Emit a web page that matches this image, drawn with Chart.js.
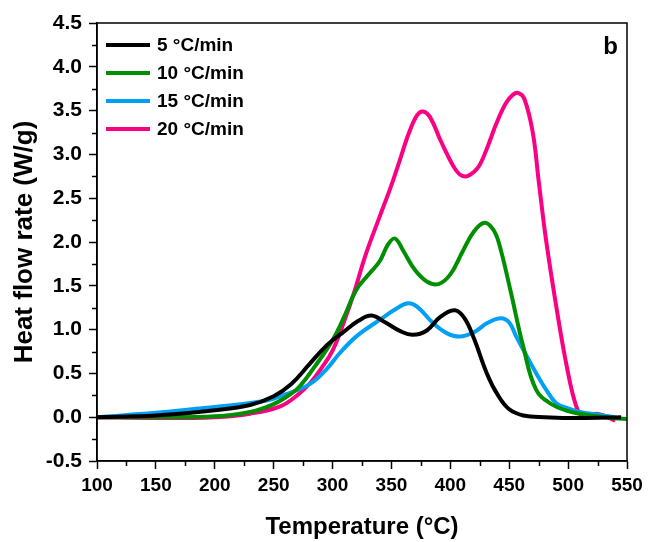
<!DOCTYPE html>
<html>
<head>
<meta charset="utf-8">
<script src="https://cdn.jsdelivr.net/npm/chart.js@4"></script>
<style>
  html, body { margin: 0; padding: 0; background: #fff; }
  #wrap { width: 649px; height: 542px; }
</style>
</head>
<body>
<div id="wrap"><canvas id="dsc-chart"></canvas></div>
<script>
// heating rates
const rateLabels = ["5 °C/min", "10 °C/min", "15 °C/min", "20 °C/min"];
const rateColors = ["#000000", "#008f00", "#00a0f5", "#fa0082"];

// 5 C/min
const temps5 = [100, 150, 200, 230, 250, 265, 280, 295, 310, 322, 333, 345, 358, 368, 380, 392, 404, 412, 420, 431, 440, 450, 462, 480, 510, 545];
const flow5 = [0, 0.02, 0.08, 0.14, 0.24, 0.38, 0.6, 0.82, 0.98, 1.1, 1.16, 1.08, 0.98, 0.94, 0.99, 1.15, 1.22, 1.13, 0.9, 0.5, 0.26, 0.09, 0.02, 0.0, -0.01, 0.0];

// 10 C/min
const temps10 = [100, 150, 200, 230, 250, 265, 272, 285, 300, 310, 320, 330, 340, 347, 353, 360, 370, 380, 390, 400, 410, 420, 429, 436, 441, 451, 462, 473, 487, 500, 510, 530, 550];
const flow10 = [0, 0, 0.01, 0.06, 0.15, 0.27, 0.35, 0.58, 0.88, 1.15, 1.45, 1.62, 1.78, 1.97, 2.04, 1.9, 1.68, 1.55, 1.52, 1.63, 1.88, 2.12, 2.22, 2.15, 2.0, 1.45, 0.8, 0.31, 0.14, 0.07, 0.04, 0.0, -0.02];

// 15 C/min
const temps15 = [100, 150, 187, 210, 244, 260, 281, 295, 306, 320, 340, 352, 364, 372, 385, 397, 408, 420, 432, 443, 450, 456, 464, 473, 482, 490, 500, 510, 525, 540];
const flow15 = [0, 0.05, 0.1, 0.13, 0.19, 0.26, 0.38, 0.55, 0.73, 0.92, 1.11, 1.22, 1.3, 1.26, 1.08, 0.96, 0.92, 0.97, 1.08, 1.13, 1.08, 0.92, 0.72, 0.5, 0.3, 0.16, 0.1, 0.06, 0.03, 0.0];

// 20 C/min
const temps20 = [100, 150, 200, 230, 255, 270, 281, 290, 300, 310, 318, 328, 340, 350, 357, 365, 372, 377, 383, 392, 402, 408, 414, 420, 425, 432, 439, 447, 453, 458, 463, 470, 475, 481, 490, 499, 507, 513, 518, 524, 530, 540];
const flow20 = [0, -0.01, 0.0, 0.04, 0.12, 0.25, 0.39, 0.55, 0.76, 1.1, 1.41, 1.85, 2.29, 2.65, 2.93, 3.25, 3.45, 3.49, 3.42, 3.15, 2.88, 2.77, 2.75, 2.8, 2.88, 3.1, 3.35, 3.58, 3.68, 3.7, 3.63, 3.25, 2.7, 2.05, 1.26, 0.57, 0.12, 0.0, 0.02, 0.04, 0.02, -0.04];

const allTemps = [temps5, temps10, temps15, temps20];
const allFlows = [flow5, flow10, flow15, flow20];

const FONT = "'Liberation Sans', Arial, sans-serif";

// frame, minor ticks, legend and panel letter
const extrasPlugin = {
  id: "extras",
  afterDraw(chart) {
    const ctx = chart.ctx;
    const area = chart.chartArea;
    const xs = chart.scales.x;
    const ys = chart.scales.y;
    ctx.save();
    ctx.strokeStyle = "#000";
    ctx.lineWidth = 1.5;
    ctx.strokeRect(area.left, area.top, area.right - area.left, area.bottom - area.top);

    // minor ticks
    ctx.lineWidth = 1.5;
    ctx.beginPath();
    for (let v = -0.25; v < 4.5; v += 0.5) {
      const py = Math.round(ys.getPixelForValue(v)) + 0.5;
      ctx.moveTo(area.left - 5, py);
      ctx.lineTo(area.left, py);
    }
    for (let t = 125; t < 550; t += 50) {
      const px = Math.round(xs.getPixelForValue(t)) + 0.5;
      ctx.moveTo(px, area.bottom);
      ctx.lineTo(px, area.bottom + 5);
    }
    ctx.stroke();

    // legend
    ctx.font = "bold 19px " + FONT;
    ctx.textBaseline = "middle";
    ctx.textAlign = "left";
    chart.data.datasets.forEach((ds, i) => {
      const y = 45 + i * 28;
      ctx.strokeStyle = ds.borderColor;
      ctx.lineWidth = 4;
      ctx.beginPath();
      ctx.moveTo(106, y);
      ctx.lineTo(150, y);
      ctx.stroke();
      ctx.fillStyle = "#000";
      ctx.fillText(ds.label, 157, y + 1);
    });

    // panel letter
    ctx.font = "bold 24px " + FONT;
    ctx.textAlign = "right";
    ctx.textBaseline = "alphabetic";
    ctx.fillText("b", 618, 54);
    ctx.restore();
  },
};

const canvas = document.querySelector("#dsc-chart");
new Chart(canvas.getContext("2d"), {
  type: "line",
  data: {
    datasets: rateLabels.map((label, i) => ({
      label: label,
      data: allTemps[i].map((t, j) => ({ x: t, y: allFlows[i][j] })),
      borderColor: rateColors[i],
      backgroundColor: rateColors[i],
      borderWidth: 4,
      pointRadius: 0,
      tension: 0.4,
      fill: false,
    })),
  },
  options: {
    responsive: true,
    maintainAspectRatio: false,
    animation: false,
    layout: { padding: { top: 23, right: 22, left: 0, bottom: 0 } },
    plugins: {
      legend: { display: false },
      tooltip: { enabled: false },
    },
    scales: {
      x: {
        type: "linear",
        min: 100,
        max: 550,
        afterFit: (scale) => { scale.height = 81; },
        ticks: {
          stepSize: 50,
          padding: 5,
          color: "#000",
          font: { family: FONT, size: 19, weight: "bold" },
        },
        grid: { drawOnChartArea: false, tickLength: 8, tickWidth: 1.5, tickColor: "#000" },
        border: { display: true, color: "#000", width: 1.5 },
        title: {
          display: true,
          text: "Temperature (°C)",
          color: "#000",
          font: { family: FONT, size: 24, weight: "bold" },
          padding: { top: 0, bottom: 0 },
        },
      },
      y: {
        min: -0.5,
        max: 4.5,
        afterFit: (scale) => { scale.width = 97; },
        ticks: {
          stepSize: 0.5,
          padding: 7,
          color: "#000",
          font: { family: FONT, size: 21, weight: "bold" },
          callback: (v) => v.toFixed(1),
        },
        grid: { drawOnChartArea: false, tickLength: 8, tickWidth: 1.5, tickColor: "#000" },
        border: { display: true, color: "#000", width: 1.5 },
        title: {
          display: true,
          text: "Heat flow rate (W/g)",
          color: "#000",
          font: { family: FONT, size: 26, weight: "bold" },
          padding: { top: 9, bottom: 0 },
        },
      },
    },
  },
  plugins: [extrasPlugin],
});
</script>
</body>
</html>
